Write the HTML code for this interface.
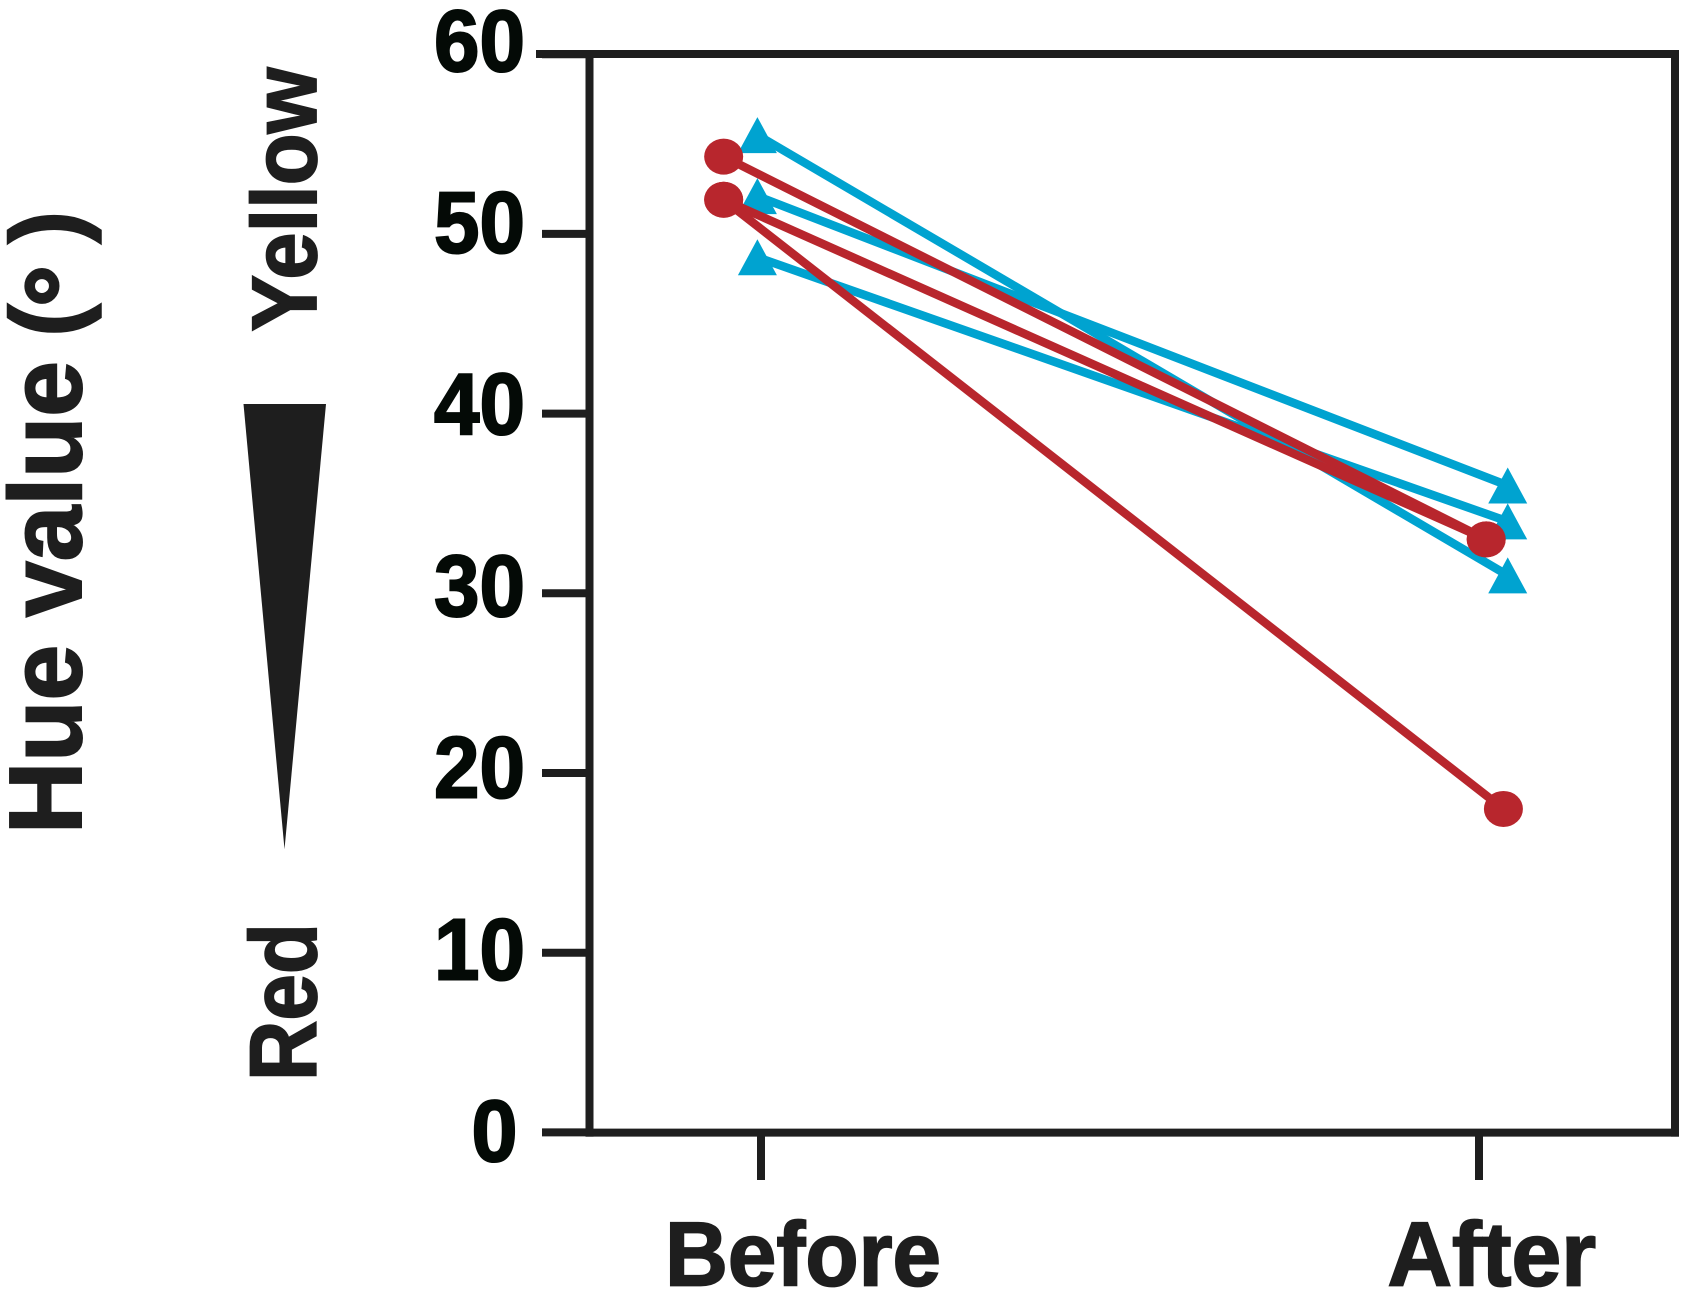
<!DOCTYPE html>
<html lang="en">
<head>
<meta charset="utf-8">
<title>Hue value before and after</title>
<style>
  html, body { margin: 0; padding: 0; background: #fff; }
  svg { display: block; }
  text { font-family: "Liberation Sans", Arial, sans-serif; font-weight: bold; }
</style>
</head>
<body>
<svg id="chart" xmlns="http://www.w3.org/2000/svg" width="1689" height="1297" viewBox="0 0 1689 1297">
  <rect x="0" y="0" width="1689" height="1297" fill="#ffffff"/>
  <g fill="#1e1e1e" stroke="#1e1e1e">
    <text transform="translate(81,834) rotate(-90)" font-size="103" stroke-width="2" textLength="473" lengthAdjust="spacingAndGlyphs">Hue value</text>
    <text transform="translate(80,337) rotate(-90)" font-size="100" stroke-width="1.5">(</text>
    <text transform="translate(99,286) rotate(-90)" font-size="105" text-anchor="middle" stroke-width="3">°</text>
    <text transform="translate(80,244) rotate(-90)" font-size="100" stroke-width="1.5">)</text>
  </g>
  <text transform="translate(316,331.5) rotate(-90)" font-size="92" fill="#1e1e1e" stroke="#1e1e1e" stroke-width="1.8" textLength="264" lengthAdjust="spacingAndGlyphs">Yellow</text>
  <text transform="translate(316,1081) rotate(-90)" font-size="95" fill="#1e1e1e" stroke="#1e1e1e" stroke-width="1.8" textLength="158" lengthAdjust="spacingAndGlyphs">Red</text>
  <polygon points="243.5,404 326,404 284.5,849.3" fill="#1e1e1e"/>
  <g id="axes"></g>
  <g id="marks"></g>
</svg>
<script>
// Chart data
const categories = ["Before", "After"];
const yTicks = [0, 10, 20, 30, 40, 50, 60];
const yTickLabels = ["0", "10", "20", "30", "40", "50", "60"];

const blueBefore = [55.5, 52.1, 48.7];
const blueAfter = [31.0, 36.0, 34.0];
const redBefore = [54.3, 51.9, 51.9];
const redAfter = [33.0, 33.0, 18.0];

// Horizontal offset of each group's points from its category, in category units
const blueJitterBefore = [-0.005, -0.005, -0.005];
const blueJitterAfter = [0.04, 0.04, 0.04];
const redJitterBefore = [-0.052, -0.052, -0.052];
const redJitterAfter = [0.01, 0.01, 0.034];

const BLUE = "#00a3d0";
const RED = "#b8262d";
const INK = "#1e1e1e";
const NS = "http://www.w3.org/2000/svg";
const axesGroup = document.getElementById("axes");
const marksGroup = document.getElementById("marks");

function yScale(v) { return 1132.4 - 17.97 * v; }
function xScale(i) { return 761 + 718 * i; }
function yLabelBaseline(v) { return 1161 - 18.17 * v; }

function svgEl(tag, attrs, parent) {
  const el = document.createElementNS(NS, tag);
  for (const k in attrs) el.setAttribute(k, attrs[k]);
  parent.appendChild(el);
  return el;
}

// Frame
const frameLeft = svgEl("line", { x1: 589.5, x2: 589.5, y1: 50, y2: 1136.6, stroke: INK, "stroke-width": 8 }, axesGroup);


const frameBottom = svgEl("line", { x1: 585.5, x2: 1679, y1: 1132.6, y2: 1132.6, stroke: INK, "stroke-width": 8 }, axesGroup);


const frameTop = svgEl("line", { x1: 536, x2: 1679, y1: 54, y2: 54, stroke: INK, "stroke-width": 8 }, axesGroup);


const frameRight = svgEl("line", { x1: 1675, x2: 1675, y1: 50, y2: 1136.6, stroke: INK, "stroke-width": 8 }, axesGroup);



// Y ticks and labels
yTicks.forEach(function (v, i) {
  const tick = svgEl("line", { x1: 542, x2: 586, y1: yScale(v), y2: yScale(v), stroke: INK, "stroke-width": 8 }, axesGroup);
  
  
  const label = svgEl("text", {
    x: v === 0 ? 517.5 : 525,
    y: yLabelBaseline(v),
    "text-anchor": "end",
    "font-size": 87,
    fill: "#040a06",
    stroke: "#040a06",
    "stroke-width": 2,
    textLength: v === 0 ? 46 : 91,
    lengthAdjust: "spacingAndGlyphs"
  }, axesGroup);
  
  
  label.textContent = yTickLabels[i];
});

// X ticks and labels
const xLabelLeft = [665, 1387.5];
const xLabelWidth = [276, 208.5];
categories.forEach(function (c, i) {
  const tick = svgEl("line", { x1: xScale(i), x2: xScale(i), y1: 1136, y2: 1180, stroke: INK, "stroke-width": 8 }, axesGroup);
  
  
  const label = svgEl("text", {
    x: xLabelLeft[i],
    y: 1285.5,
    "font-size": 91,
    fill: INK,
    stroke: INK,
    "stroke-width": 1.8,
    textLength: xLabelWidth[i],
    lengthAdjust: "spacingAndGlyphs"
  }, axesGroup);
  
  
  label.textContent = c;
});

function drawLine(x0, v0, x1, v1, color) {
  const line = svgEl("line", {
    x1: x0, y1: yScale(v0), x2: x1, y2: yScale(v1),
    stroke: color, "stroke-width": 8.5
  }, marksGroup);
  
  
}

function drawTriangle(x, v) {
  const y = yScale(v);
  const tri = svgEl("polygon", {
    points: (x - 19.5) + "," + (y + 18) + " " + (x + 19.5) + "," + (y + 18) + " " + x + "," + (y - 18),
    fill: BLUE
  }, marksGroup);
  
  
}

function drawCircle(x, v) {
  const dot = svgEl("ellipse", { cx: x, cy: yScale(v), rx: 19.5, ry: 18, fill: RED }, marksGroup);
  
  
}

// Blue series
blueBefore.forEach(function (v, i) {
  drawLine(xScale(0 + blueJitterBefore[i]), v, xScale(1 + blueJitterAfter[i]), blueAfter[i], BLUE);
});
blueBefore.forEach(function (v, i) {
  drawTriangle(xScale(0 + blueJitterBefore[i]), v);
  drawTriangle(xScale(1 + blueJitterAfter[i]), blueAfter[i]);
});

// Red series
redBefore.forEach(function (v, i) {
  drawLine(xScale(0 + redJitterBefore[i]), v, xScale(1 + redJitterAfter[i]), redAfter[i], RED);
});
redBefore.forEach(function (v, i) {
  drawCircle(xScale(0 + redJitterBefore[i]), v);
  drawCircle(xScale(1 + redJitterAfter[i]), redAfter[i]);
});
</script>
</body>
</html>
